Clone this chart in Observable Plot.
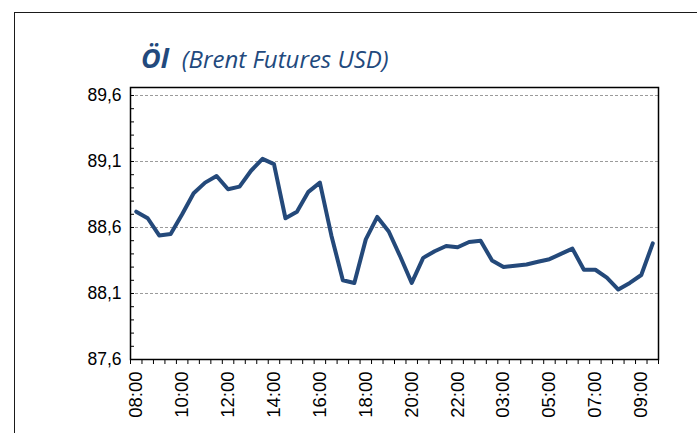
<!DOCTYPE html>
<html><head><meta charset="utf-8">
<script src="https://cdn.jsdelivr.net/npm/d3@7"></script>
<script src="https://cdn.jsdelivr.net/npm/@observablehq/plot@0.6"></script>
<style>
html,body{margin:0;padding:0;background:#fff;overflow:hidden;width:697px;height:433px;}
#wrap{position:relative;width:697px;height:433px;overflow:hidden;}
#border{position:absolute;left:14px;top:12px;width:760px;height:500px;border:1.5px solid #1a1a1a;box-sizing:border-box;}
#title{position:absolute;left:141px;top:42px;line-height:32px;white-space:nowrap;color:#22497d;font-family:"Open Sans",sans-serif;}
#title .main{font-weight:700;font-style:italic;font-size:27px;}
#title .sub{font-style:italic;font-size:24px;margin-left:13px;}
#chart{position:absolute;left:0;top:0;}
</style></head>
<body><div id="wrap"><div id="border"></div><div id="chart"></div><div id="title"><span class="main">Öl</span><span class="sub">(Brent Futures USD)</span></div></div>
<script>
const times = ["08:00","08:30","09:00","09:30","10:00","10:30","11:00","11:30","12:00","12:30",
  "13:00","13:30","14:00","14:30","15:00","15:30","16:00","16:30","17:00","17:30",
  "18:00","18:30","19:00","19:30","20:00","20:30","21:00","21:30","22:00","22:30",
  "23:00","02:30","03:00","03:30","04:00","04:30","05:00","05:30","06:00","06:30",
  "07:00","07:30","08:00","08:30","09:00","09:30"];
const prices = [88.72,88.67,88.54,88.55,88.70,88.86,88.94,88.99,88.89,88.91,
  89.03,89.12,89.08,88.67,88.72,88.87,88.94,88.54,88.20,88.18,
  88.51,88.68,88.57,88.38,88.18,88.37,88.42,88.46,88.45,88.49,
  88.50,88.35,88.30,88.31,88.32,88.34,88.36,88.40,88.44,88.28,
  88.28,88.22,88.13,88.18,88.24,88.48];
const yLabelTicks = [87.6, 88.1, 88.6, 89.1, 89.6];
const gridTicks = [88.1, 88.6, 89.1, 89.6];
const yMinorStep = 0.1;
const labelEvery = 4;

const data = times.map((t, i) => ({i, t, v: prices[i]}));
const minorTicks = d3.range(0, Math.round((yLabelTicks[yLabelTicks.length-1] - yLabelTicks[0]) / yMinorStep) + 1)
  .map(k => +(yLabelTicks[0] + k * yMinorStep).toFixed(2));
const boundaries = d3.range(times.length + 1).map(i => i - 0.5);
const labelIdx = d3.range(0, times.length, labelEvery);

const chart = Plot.plot({
  width: 697, height: 433,
  marginLeft: 130, marginRight: 39, marginTop: 87, marginBottom: 74,
  style: {fontFamily: "'Liberation Sans', Arial, sans-serif", fontSize: "17px", color: "#000", background: "transparent"},
  x: {type: "linear", domain: [-0.5, times.length - 0.5]},
  y: {domain: [87.6, 89.6606]},
  marks: [
    Plot.gridY(gridTicks, {stroke: "#9a9a9a", strokeOpacity: 1, strokeDasharray: "3,2"}),
    Plot.line(data, {x: "i", y: "v", stroke: "#24497a", strokeWidth: 4, strokeLinejoin: "round"}),
    Plot.axisY(yLabelTicks, {tickSize: 0, tickPadding: 9, tickFormat: d => d.toFixed(1).replace(".", ","), fontSize: 17.5, label: null}),
    Plot.axisY(minorTicks, {tickSize: -4, tickFormat: () => "", label: null}),
    Plot.axisX(labelIdx, {tickSize: 0, tickPadding: 12, tickRotate: -90, tickFormat: i => times[i], fontSize: 18.5, label: null}),
    Plot.axisX(boundaries, {tickSize: 5, tickFormat: () => "", label: null}),
    Plot.frame({stroke: "#000", strokeWidth: 1.5})
  ]
});
document.getElementById("chart").appendChild(chart);
</script>
</body></html>
